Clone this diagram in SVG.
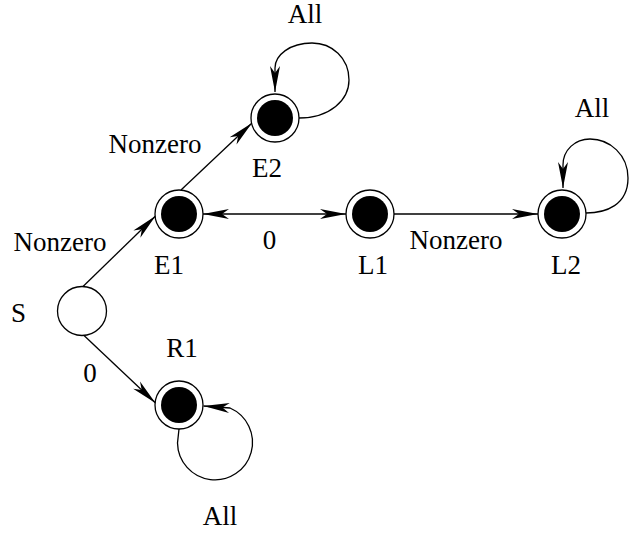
<svg xmlns="http://www.w3.org/2000/svg" width="629" height="533" viewBox="0 0 629 533">
<style>
.ring{fill:#fff;stroke:#000;stroke-width:1.3}
.dot{fill:#000}
.edge{fill:none;stroke:#000;stroke-width:1.3}
.t{font-family:'Liberation Serif','Times New Roman','DejaVu Serif',serif;font-size:27px;fill:#000;text-anchor:middle}
</style>
<defs>
<marker id="arr" markerUnits="userSpaceOnUse" viewBox="-27 -6 28 12" refX="0" refY="0" markerWidth="28" markerHeight="12" orient="auto-start-reverse">
<path d="M0,0 L-26,-5 L-19,0 L-26,5 Z" fill="#000"/>
</marker>
</defs>
<rect width="629" height="533" fill="#fff"/>
<g id="connectors">
<path class="edge" d="M83,286.5 L155.5,216" marker-end="url(#arr)"/>
<path class="edge" d="M181,190 L252,123" marker-end="url(#arr)"/>
<path class="edge" d="M203,214 L346,214" marker-start="url(#arr)" marker-end="url(#arr)"/>
<path class="edge" d="M394,214 L538,214" marker-end="url(#arr)"/>
<path class="edge" d="M84,335.5 L155.5,403" marker-end="url(#arr)"/>
<path class="edge" d="M299,118 C330,118 349,100 349,80 C349,58 332,43 312,43 C290,43 275,55 275,68 L275,92" marker-end="url(#arr)"/>
<path class="edge" d="M586,213 C606,213 628,205 628,178 C628,155 610,139 590,139 C575,139 563,150 563,165 L563,188" marker-end="url(#arr)"/>
<path class="edge" d="M179,429 L177.5,443 A37.5,37.5 0 1 0 230,408 L203.5,406" marker-end="url(#arr)"/>
</g>
<g id="S"><circle class="ring" cx="82" cy="311" r="24.5"/><text class="t" font-family="Liberation Serif, serif" x="18.5" y="322">S</text></g>
<g id="E1"><circle class="ring" cx="179" cy="214" r="24"/><circle class="dot" cx="179" cy="214" r="18"/><text class="t" x="169" y="274">E1</text></g>
<g id="E2"><circle class="ring" cx="275" cy="118" r="24"/><circle class="dot" cx="275" cy="118" r="18"/><text class="t" x="267" y="177">E2</text></g>
<g id="L1"><circle class="ring" cx="370" cy="214" r="24"/><circle class="dot" cx="370" cy="214" r="18"/><text class="t" x="373" y="274">L1</text></g>
<g id="L2"><circle class="ring" cx="562" cy="214" r="24"/><circle class="dot" cx="562" cy="214" r="18"/><text class="t" x="566" y="274">L2</text></g>
<g id="R1"><circle class="ring" cx="179" cy="405" r="24"/><circle class="dot" cx="179" cy="405" r="18"/><text class="t" x="182" y="357">R1</text></g>
<g id="labels">
<text class="t" x="60" y="251">Nonzero</text>
<text class="t" x="155" y="153">Nonzero</text>
<text class="t" x="305" y="23">All</text>
<text class="t" x="269.5" y="249">0</text>
<text class="t" x="456" y="249">Nonzero</text>
<text class="t" x="592" y="117">All</text>
<text class="t" x="90" y="382">0</text>
<text class="t" x="220" y="525">All</text>
</g>
</svg>
